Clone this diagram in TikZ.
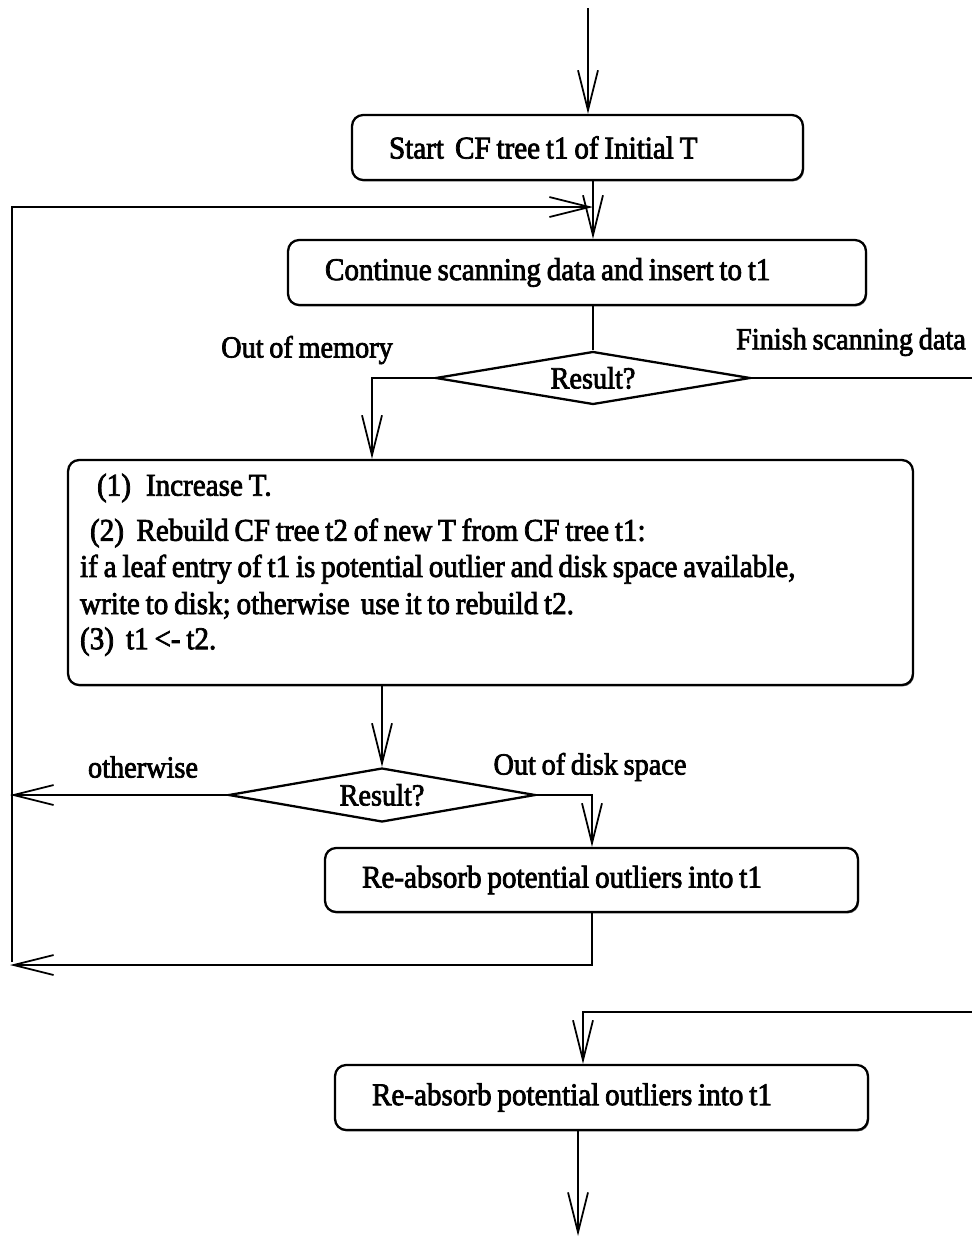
\documentclass[tikz,border=0pt]{standalone}
\usepackage{fontspec}
\setmainfont{Liberation Serif}[FakeStretch=0.92, FakeBold=2.4, WordSpace=0.8]
\usetikzlibrary{arrows.meta, shapes.geometric, shadows}

\begin{document}
\begin{tikzpicture}[x=0.02cm, y=-0.02cm, >={Straight Barb[length=0.8cm, width=0.4cm]},
    txt/.style={font=\fontsize{17.5}{20}\selectfont},
    procbox/.style={txt, font=\fontsize{18}{20}\selectfont, draw, line width=1.3pt, rounded corners=0.22cm, align=left,
        execute at begin node={\spaceskip=0pt\xspaceskip=0pt},
        inner xsep=0.74cm, inner ysep=0pt, fill=white,
        drop shadow={shadow xshift=0.6pt, shadow yshift=-0.8pt, fill=black!60, opacity=1}},
    decision/.style={txt, draw, diamond, aspect=6, line width=1.3pt, inner sep=0pt},
    flow/.style={->, line width=1pt}]

    \useasboundingbox (0,0) rectangle (972,1241);

    % boxes
    \node[procbox, minimum width=9.02cm, minimum height=1.3cm, text width=7.54cm] (b1) at (577.5,147.5) {Start\, CF tree t1 of Initial T};
    \node[procbox, minimum width=11.56cm, minimum height=1.3cm, text width=10.08cm] (b2) at (577,272.5) {Continue scanning data and insert to t1};
    \node[procbox, minimum width=16.9cm, minimum height=4.5cm, text width=16.42cm, inner xsep=0.24cm] (b3) at (490.5,572.5)
        {\hspace*{0.34cm}(1)\hspace{0.3cm}Increase T.\\[0.2cm]
         \hspace*{0.2cm}(2)\hspace{0.25cm}Rebuild CF tree t2 of new T from CF tree t1:\\[0.02cm]
         if a leaf entry of t1 is potential outlier and disk space available,\\[0.04cm]
         write to disk; otherwise\, use it to rebuild t2.\\[0cm]
         (3)\hspace{0.24cm}t1 <- t2.\\[-0.26cm]\mbox{}};
    \node[procbox, minimum width=10.66cm, minimum height=1.28cm, text width=9.18cm] (b4) at (591.5,880) {Re-absorb potential outliers into t1};
    \node[procbox, minimum width=10.66cm, minimum height=1.3cm, text width=9.18cm] (b5) at (601.5,1097.5) {Re-absorb potential outliers into t1};

    % decisions
    \node[decision, minimum width=6.3cm, minimum height=1.06cm] (d1) at (593,378) {Result?};
    \node[decision, minimum width=6.14cm, minimum height=1.08cm] (d2) at (382,795) {Result?};

    % labels
    \node[txt] (lmem) at (307,350) {Out of memory};
    \node[txt] (lfin) at (851,342) {Finish scanning data};
    \node[txt] (loth) at (143,767) {otherwise};
    \node[txt] (ldisk) at (590,767) {Out of disk space};

    \coordinate (in) at (588,8);
    \coordinate (out) at (578,1236);
    \coordinate (spine) at (593,0);
    \coordinate (memx) at (372,0);
    \coordinate (loopbot) at (12,962);
    \coordinate (loopjoin) at (593,207);
    \coordinate (retA) at (10,795);
    \coordinate (retB) at (10,965);
    \coordinate (exitR) at (990,1012);
    \coordinate (dropx) at (583,0);

    % connectors
    \draw[flow] (in) -- (in |- b1.north);
    \draw[flow] (b1.south -| spine) -- (b2.north -| spine);
    \draw[flow] (loopbot) |- (loopjoin);
    \draw[line width=1pt] (b2.south -| spine) -- (d1.north);
    \draw[flow] (d1.west) -| (memx |- b3.north);
    \draw[flow] (d1.east) -| (exitR) -| (dropx |- b5.north);
    \draw[flow] (b3.south -| d2.north) -- (d2.north);
    \draw[flow] (d2.west) -- (retA);
    \draw[flow] (d2.east) -| (b4.north -| 592,0);
    \draw[flow] (b4.south -| 592,0) |- (retB);
    \draw[flow] (b5.south -| out) -- (out);

\end{tikzpicture}
\end{document}
